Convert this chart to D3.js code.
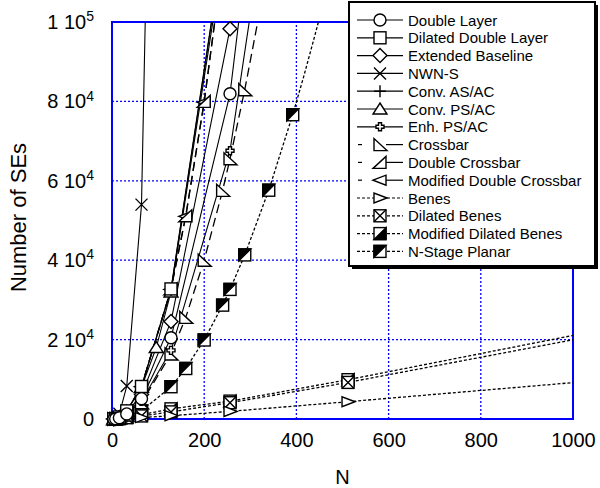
<!DOCTYPE html>
<html>
<head>
<meta charset="utf-8">
<script src="https://cdn.jsdelivr.net/npm/d3@7"></script>
<style>
  html, body { margin: 0; padding: 0; background: #fff; }
  svg { display: block; font-family: "Liberation Sans", Arial, sans-serif; }
</style>
</head>
<body>
<script>
// ---------------- data ----------------
const xTicks = [0, 200, 400, 600, 800, 1000];
const yTickMantissa = ["0", "2", "4", "6", "8", "1"];
const yTickExp = ["", "4", "4", "4", "4", "5"];
const yTicks = [0, 20000, 40000, 60000, 80000, 100000];

const doubleLayerN = [4, 8, 16, 32, 64, 128, 256, 512];
const doubleLayerV = [20, 80, 320, 1280, 5120, 20480, 81920, 327680];

const dilatedDoubleLayerN = [4, 8, 16, 32, 64, 128, 256];
const dilatedDoubleLayerV = [32, 128, 512, 2048, 8192, 32768, 131072];

const extBaselineN = [4, 8, 16, 32, 64, 128, 256, 512];
const extBaselineV = [24, 96, 384, 1536, 6144, 24576, 98304, 393216];

const nwnsN = [4, 8, 16, 32, 64, 128];
const nwnsV = [40, 220, 1300, 8300, 54000, 420000];

const convAsAcN = [4, 8, 16, 32, 64, 128, 256];
const convAsAcV = [24, 112, 480, 1984, 8064, 32512, 130560];

const convPsAcN = [4, 8, 16, 32, 64, 96, 128, 256];
const convPsAcV = [30, 124, 500, 2000, 8000, 18000, 32000, 128000];

const enhPsAcN = [4, 8, 16, 32, 64, 128, 256, 512];
const enhPsAcV = [24, 88, 320, 1184, 4480, 17280, 67584, 266752];

const crossbarN = [4, 8, 16, 32, 64, 128, 160, 200, 240, 256, 288, 320];
const crossbarV = [16, 64, 256, 1024, 4096, 16384, 25600, 40000, 57600, 65536, 82944, 102400];

const doubleCrossbarN = [4, 8, 16, 32, 64, 128, 160, 200, 240];
const doubleCrossbarV = [32, 128, 512, 2048, 8192, 32768, 51200, 80000, 115200];

const modDoubleCrossbarN = [4, 8, 16, 32, 64, 128, 160, 200, 240];
const modDoubleCrossbarV = [28, 120, 496, 2016, 8128, 32640, 51040, 79800, 114960];

const benesN = [4, 8, 16, 32, 64, 128, 256, 512, 1024];
const benesV = [6, 20, 56, 144, 352, 832, 1920, 4352, 9400];

const dilatedBenesN = [4, 8, 16, 32, 64, 128, 256, 512, 1024];
const dilatedBenesV = [16, 48, 128, 320, 768, 1792, 4096, 9216, 20480];

const modDilatedBenesN = [4, 8, 16, 32, 64, 128, 256, 512, 1024];
const modDilatedBenesV = [20, 64, 176, 448, 1088, 2560, 4500, 9900, 21600];

const nStageN = [4, 8, 16, 32, 64, 128, 160, 200, 240, 256, 288, 340, 392, 416, 440, 452];
const nStageV = [6, 28, 120, 496, 2016, 8128, 12720, 19900, 28680, 32640, 41328, 57630, 76636, 86320, 96580, 101900];
const nStageMarked = [4, 8, 16, 32, 64, 128, 160, 200, 240, 256, 288, 340, 392];

const seriesNames = ["Double Layer", "Dilated Double Layer", "Extended Baseline", "NWN-S",
  "Conv. AS/AC", "Conv. PS/AC", "Enh. PS/AC", "Crossbar", "Double Crossbar",
  "Modified Double Crossbar", "Benes", "Dilated Benes", "Modified Dilated Benes", "N-Stage Planar"];

// ---------------- build series table ----------------
const series = [
  { name: seriesNames[0], n: doubleLayerN, v: doubleLayerV, mk: "circle", st: "solid" },
  { name: seriesNames[1], n: dilatedDoubleLayerN, v: dilatedDoubleLayerV, mk: "square", st: "solid" },
  { name: seriesNames[2], n: extBaselineN, v: extBaselineV, mk: "diamond", st: "solid" },
  { name: seriesNames[3], n: nwnsN, v: nwnsV, mk: "x", st: "solid" },
  { name: seriesNames[4], n: convAsAcN, v: convAsAcV, mk: "plus", st: "solid" },
  { name: seriesNames[5], n: convPsAcN, v: convPsAcV, mk: "tri", st: "solid" },
  { name: seriesNames[6], n: enhPsAcN, v: enhPsAcV, mk: "cross", st: "solid" },
  { name: seriesNames[7], n: crossbarN, v: crossbarV, mk: "rtriL", st: "long" },
  { name: seriesNames[8], n: doubleCrossbarN, v: doubleCrossbarV, mk: "rtriR", st: "long" },
  { name: seriesNames[9], n: modDoubleCrossbarN, v: modDoubleCrossbarV, mk: "triLeft", st: "long" },
  { name: seriesNames[10], n: benesN, v: benesV, mk: "triRight", st: "short" },
  { name: seriesNames[11], n: dilatedBenesN, v: dilatedBenesV, mk: "sqx", st: "short" },
  { name: seriesNames[12], n: modDilatedBenesN, v: modDilatedBenesV, mk: "sqLR", st: "short" },
  { name: seriesNames[13], n: nStageN, v: nStageV, mk: "sqUL", st: "short", marked: nStageMarked }
];

// ---------------- drawing ----------------
const W = 600, H = 488;
const svg = d3.select("body").append("svg").attr("width", W).attr("height", H);
const x = d3.scaleLinear().domain([0, 1000]).range([112, 573]);
const y = d3.scaleLinear().domain([0, 100000]).range([419, 22]);
const blue = "#0000ff";

// grid
const grid = svg.append("g");
xTicks.slice(1, -1).forEach(t => grid.append("line")
  .attr("x1", x(t)).attr("x2", x(t)).attr("y1", y(0)).attr("y2", y(100000))
  .attr("stroke", blue).attr("stroke-width", 1.3).attr("stroke-dasharray", "2,2"));
yTicks.slice(1, -1).forEach(t => grid.append("line")
  .attr("x1", x(0)).attr("x2", x(1000)).attr("y1", y(t)).attr("y2", y(t))
  .attr("stroke", blue).attr("stroke-width", 1.3).attr("stroke-dasharray", "2,2"));

// frame
svg.append("rect").attr("x", x(0)).attr("y", y(100000))
  .attr("width", x(1000) - x(0)).attr("height", y(0) - y(100000))
  .attr("fill", "none").attr("stroke", blue).attr("stroke-width", 2);

// axes labels
const xAxis = d3.axisBottom(x).tickValues(xTicks).tickSize(0).tickPadding(14).tickFormat(d3.format("d"));
const gx = svg.append("g").attr("transform", `translate(0,${y(0)})`).call(xAxis);
gx.select(".domain").remove();
gx.selectAll("text").attr("font-size", 20).attr("font-family", "Liberation Sans, Arial").attr("fill", "#000");

const yAxis = d3.axisLeft(y).tickValues(yTicks).tickSize(0).tickPadding(18).tickFormat(() => "");
const gy = svg.append("g").attr("transform", `translate(${x(0)},0)`).call(yAxis);
gy.select(".domain").remove();
gy.selectAll(".tick text").each(function (d, i) {
  const t = d3.select(this).attr("font-size", 20).attr("font-family", "Liberation Sans, Arial").attr("fill", "#000");
  if (yTickExp[i] === "") {
    t.text(yTickMantissa[i]);
  } else {
    t.append("tspan").text(yTickMantissa[i] + " 10");
    t.append("tspan").text(yTickExp[i]).attr("font-size", 14).attr("dy", "-0.55em");
  }
});

svg.append("text").attr("x", (x(0) + x(1000)) / 2).attr("y", 484)
  .attr("text-anchor", "middle").attr("font-size", 20).text("N");
svg.append("text").attr("transform", `translate(26,${(y(0) + y(100000)) / 2 - 3}) rotate(-90)`)
  .attr("text-anchor", "middle").attr("font-size", 22).text("Number of SEs");

// clip
svg.append("clipPath").attr("id", "plotclip").append("rect")
  .attr("x", x(0)).attr("y", y(100000)).attr("width", x(1000) - x(0)).attr("height", y(0) - y(100000));

const dashOf = st => st === "long" ? "9,5" : st === "short" ? "3,2" : null;

function drawMarker(g, type, cx, cy) {
  const m = g.append("g").attr("transform", `translate(${cx},${cy})`)
    .attr("fill", "#fff").attr("stroke", "#000").attr("stroke-width", 1.4);
  const s = 6;
  switch (type) {
    case "circle": m.append("circle").attr("r", s); break;
    case "square": m.append("rect").attr("x", -s).attr("y", -s).attr("width", 2 * s).attr("height", 2 * s); break;
    case "diamond": m.append("path").attr("d", `M0,${-s - 1}L${s + 1},0L0,${s + 1}L${-s - 1},0Z`); break;
    case "x": m.append("path").attr("d", `M${-s},${-s}L${s},${s}M${-s},${s}L${s},${-s}`); break;
    case "plus": m.append("path").attr("d", `M0,${-s}L0,${s}M${-s},0L${s},0`); break;
    case "tri": m.append("path").attr("d", `M0,${-s}L${s + 1},${s - 1}L${-s - 1},${s - 1}Z`); break;
    case "cross": m.append("path").attr("d", "M-1.5,-4L1.5,-4L1.5,-1.5L4,-1.5L4,1.5L1.5,1.5L1.5,4L-1.5,4L-1.5,1.5L-4,1.5L-4,-1.5L-1.5,-1.5Z"); break;
    case "rtriL": m.append("path").attr("d", `M${-s},${-s}L${-s},${s}L${s + 1},${s}Z`); break;
    case "rtriR": m.append("path").attr("d", `M${s},${-s}L${s},${s}L${-s - 1},${s}Z`); break;
    case "triLeft": m.append("path").attr("d", `M${-s - 1},0L${s},${-s + 1}L${s},${s - 1}Z`); break;
    case "triRight": m.append("path").attr("d", `M${s + 1},0L${-s},${-s + 1}L${-s},${s - 1}Z`); break;
    case "sqx":
      m.append("rect").attr("x", -s).attr("y", -s).attr("width", 2 * s).attr("height", 2 * s);
      m.append("path").attr("d", `M${-s},${-s}L${s},${s}M${-s},${s}L${s},${-s}`); break;
    case "sqLR":
      m.append("rect").attr("x", -s).attr("y", -s).attr("width", 2 * s).attr("height", 2 * s);
      m.append("path").attr("d", `M${s},${-s}L${s},${s}L${-s},${s}Z`).attr("fill", "#000"); break;
    case "sqUL":
      m.append("rect").attr("x", -s).attr("y", -s).attr("width", 2 * s).attr("height", 2 * s);
      m.append("path").attr("d", `M${-s},${-s}L${s},${-s}L${-s},${s}Z`).attr("fill", "#000"); break;
  }
}

const line = d3.line().x(d => x(d[0])).y(d => y(d[1]));
const linesG = svg.append("g").attr("clip-path", "url(#plotclip)");
const marksG = svg.append("g");

series.forEach(s => {
  const pts = s.n.map((n, i) => [n, s.v[i]]);
  linesG.append("path").datum(pts).attr("d", line)
    .attr("fill", "none").attr("stroke", "#000")
    .attr("stroke-width", s.st === "solid" ? 1.1 : 1.3)
    .attr("stroke-dasharray", dashOf(s.st));
});
series.slice().reverse().forEach(s => {
  s.n.forEach((n, i) => {
    if (s.v[i] > 100000 || n > 1000) return;
    if (s.marked && !s.marked.includes(n)) return;
    drawMarker(marksG, s.mk, x(n), y(s.v[i]));
  });
});

// legend
const lg = svg.append("g");
lg.append("rect").attr("x", 352).attr("y", 5).attr("width", 246).attr("height", 264).attr("fill", "#000");
lg.append("rect").attr("x", 349).attr("y", 2).attr("width", 246).attr("height", 264)
  .attr("fill", "#fff").attr("stroke", "#000").attr("stroke-width", 2);
series.forEach((s, i) => {
  const cy = 20 + i * 17.8;
  if (s.st === "long") {
    lg.append("line").attr("x1", 358).attr("x2", 362).attr("y1", cy).attr("y2", cy).attr("stroke", "#000").attr("stroke-width", 1.2);
    lg.append("line").attr("x1", 386).attr("x2", 403).attr("y1", cy).attr("y2", cy).attr("stroke", "#000").attr("stroke-width", 1.2);
  } else {
    lg.append("line").attr("x1", 357).attr("x2", 403).attr("y1", cy).attr("y2", cy)
      .attr("stroke", "#000").attr("stroke-width", 1.2).attr("stroke-dasharray", dashOf(s.st));
  }
  drawMarker(lg, s.mk, 380, cy);
  lg.append("text").attr("x", 408).attr("y", cy + 5.5).attr("font-size", 15).text(s.name);
});
</script>
</body>
</html>
